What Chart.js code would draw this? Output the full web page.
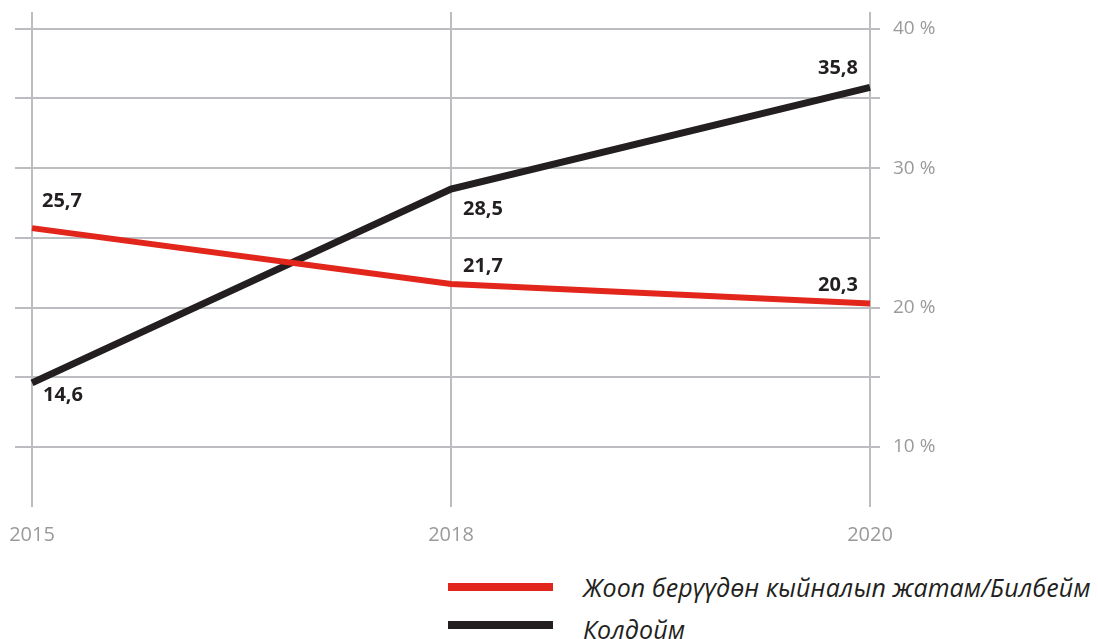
<!DOCTYPE html>
<html>
<head>
<meta charset="utf-8">
<script src="https://cdn.jsdelivr.net/npm/chart.js@4/dist/chart.umd.min.js"></script>
<style>
  html, body { margin: 0; padding: 0; background: #fff; }
  #wrap { position: relative; width: 1098px; height: 639px; overflow: hidden; }
  #box { position: absolute; left: 0; top: 0; width: 1098px; height: 560px; }
  #legend { position: absolute; left: 448px; top: 568px; font-family: "Open Sans", sans-serif; font-style: italic; font-size: 25px; letter-spacing: 0.1px; color: #231f20; }
  #legend .item { display: flex; align-items: center; height: 38px; white-space: nowrap; }
  #legend .item + .item span:last-child { position: relative; top: 4px; }
  #legend .swatch { width: 105px; height: 8px; margin-right: 30px; }
</style>
</head>
<body>
<div id="wrap">
  <div id="box"><canvas id="chart"></canvas></div>
  <div id="legend"></div>
</div>
<script>
// data
const years = ['2015', '2018', '2020'];
const series_names = ['Жооп берүүдөн кыйналып жатам/Билбейм', 'Колдойм'];
const hard_to_answer = [25.7, 21.7, 20.3];
const support = [14.6, 28.5, 35.8];
const y_ticks = [10, 15, 20, 25, 30, 35, 40];

const grid_color = '#bcbdc0';
const tick_color = '#9a9a9a';
const colors = ['#e2261c', '#231f20'];

// where each value label sits relative to its point [dx, dy]
const label_offsets = [
    [[10, -27], [12, -18], [-12, -18]],
    [[11, 12], [12, 20], [-12, -19]]
];

const setTicks = (axis) => {
    axis.ticks = y_ticks.map(v => ({value: v}));
};

const valueLabels = {
    id: 'valueLabels',
    afterDatasetsDraw: (chart) => {
        const ctx = chart.ctx;
        ctx.save();
        ctx.font = "bold 20px 'Open Sans'";
        ctx.fillStyle = '#231f20';
        ctx.textBaseline = 'middle';
        chart.data.datasets.forEach((ds, di) => {
            const meta = chart.getDatasetMeta(di);
            meta.data.forEach((pt, i) => {
                const off = label_offsets[di][i];
                ctx.textAlign = off[0] < 0 ? 'right' : 'left';
                ctx.fillText(String(ds.data[i]).replace('.', ','), pt.x + off[0], pt.y + off[1]);
            });
        });
        ctx.restore();
    }
};

const chart = new Chart(document.getElementById('chart'), {
    type: 'line',
    data: {
        labels: years,
        datasets: [
            {
                label: series_names[0],
                data: hard_to_answer,
                borderColor: colors[0],
                backgroundColor: colors[0],
                borderWidth: 6,
                pointRadius: 0,
                tension: 0,
                yAxisID: 'y'
            },
            {
                label: series_names[1],
                data: support,
                borderColor: colors[1],
                backgroundColor: colors[1],
                borderWidth: 7,
                pointRadius: 0,
                tension: 0,
                yAxisID: 'y'
            }
        ]
    },
    plugins: [valueLabels],
    options: {
        responsive: true,
        maintainAspectRatio: false,
        animation: false,
        layout: {
            padding: {left: 15, top: 12, right: 0, bottom: 0}
        },
        plugins: {
            legend: {display: false},
            tooltip: {enabled: false}
        },
        scales: {
            x: {
                type: 'category',
                offset: false,
                border: {display: false},
                grid: {color: grid_color, lineWidth: 2, drawTicks: false},
                ticks: {
                    color: tick_color,
                    padding: 16,
                    font: {family: 'Open Sans', size: 20}
                },
                afterFit: (scale) => {
                    scale.height = 53;
                    scale.paddingLeft = 0;
                    scale.paddingRight = 0;
                }
            },
            y: {
                position: 'right',
                min: 5.7,
                max: 41.2,
                afterBuildTicks: setTicks,
                border: {display: false},
                grid: {color: grid_color, lineWidth: 2, tickLength: 10},
                ticks: {
                    color: tick_color,
                    padding: 13,
                    font: {family: 'Open Sans', size: 19},
                    callback: (v) => v % 10 === 0 ? v + ' %' : ''
                },
                afterFit: (scale) => {
                    scale.width = 228;
                    scale.paddingTop = 0;
                    scale.paddingBottom = 0;
                }
            },
            yl: {
                position: 'left',
                min: 5.7,
                max: 41.2,
                afterBuildTicks: setTicks,
                border: {display: false},
                grid: {color: grid_color, lineWidth: 2, tickLength: 17, drawOnChartArea: false},
                ticks: {display: false},
                afterFit: (scale) => {
                    scale.width = 17;
                    scale.paddingTop = 0;
                    scale.paddingBottom = 0;
                }
            }
        }
    }
});

// legend made from the chart's datasets
const legend = document.getElementById('legend');
chart.data.datasets.forEach(ds => {
    const item = document.createElement('div');
    item.className = 'item';
    const sw = document.createElement('span');
    sw.className = 'swatch';
    sw.style.background = ds.borderColor;
    const tx = document.createElement('span');
    tx.textContent = ds.label;
    item.appendChild(sw);
    item.appendChild(tx);
    legend.appendChild(item);
});
</script>
</body>
</html>
